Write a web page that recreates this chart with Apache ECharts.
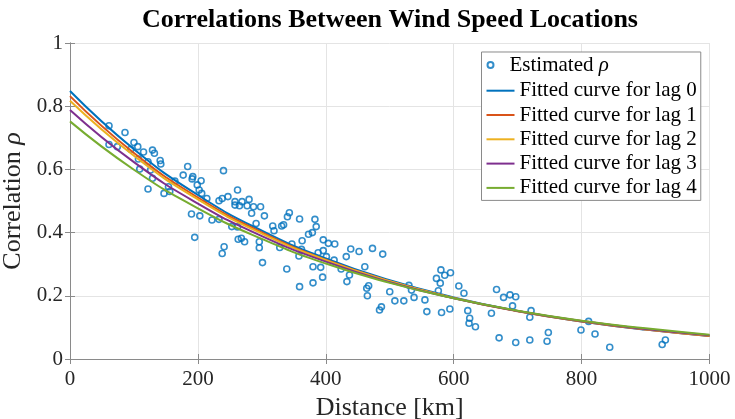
<!DOCTYPE html>
<html>
<head>
<meta charset="utf-8">
<script src="https://cdn.jsdelivr.net/npm/echarts@6/dist/echarts.min.js"></script>
<style>html,body{margin:0;padding:0;background:#fff}#c{width:735px;height:419px}</style>
</head>
<body>
<div id="c"></div>
<script>
// Estimated correlations: distance [km] and rho
const distances = [61,61,74,86,100,106,95,115,129,132,122,141,142,107,109,126,122,129,147,154,156,164,177,184,192,191,205,199,202,206,214,240,233,238,247,262,258,258,269,280,287,277,265,190,203,222,233,195,262,268,291,298,284,304,253,241,238,263,273,296,296,301,317,319,331,334,340,343,359,383,385,373,379,363,347,328,362,358,339,396,404,414,388,396,401,413,380,392,395,380,359,432,439,452,473,461,433,464,467,465,489,437,424,484,487,500,508,522,530,534,538,555,558,573,580,586,595,579,576,581,594,608,616,622,625,624,634,659,667,678,688,697,692,671,697,721,719,719,748,746,799,811,821,844,926,931];
const rhoEst = [0.738,0.679,0.672,0.717,0.685,0.672,0.664,0.655,0.661,0.651,0.624,0.628,0.617,0.633,0.601,0.598,0.538,0.572,0.524,0.545,0.530,0.563,0.582,0.609,0.577,0.570,0.564,0.551,0.535,0.524,0.508,0.596,0.501,0.508,0.514,0.535,0.498,0.487,0.498,0.505,0.482,0.485,0.485,0.459,0.453,0.440,0.442,0.385,0.418,0.382,0.429,0.482,0.461,0.453,0.419,0.355,0.334,0.379,0.371,0.371,0.352,0.305,0.421,0.406,0.421,0.425,0.450,0.463,0.443,0.442,0.419,0.395,0.400,0.374,0.364,0.353,0.347,0.326,0.285,0.377,0.366,0.364,0.336,0.343,0.324,0.313,0.292,0.290,0.259,0.241,0.229,0.324,0.348,0.340,0.350,0.292,0.245,0.224,0.232,0.200,0.332,0.266,0.285,0.155,0.165,0.213,0.184,0.184,0.233,0.218,0.195,0.187,0.150,0.255,0.282,0.265,0.273,0.240,0.216,0.147,0.158,0.231,0.208,0.153,0.129,0.113,0.102,0.145,0.220,0.195,0.203,0.197,0.168,0.067,0.052,0.153,0.132,0.060,0.084,0.056,0.092,0.119,0.079,0.037,0.046,0.060];

// Fitted curves at these distances
const curveDist = [0,100,200,300,400,500,600,700,800,900,1000];
const lag0 = [0.848,0.664,0.519,0.406,0.318,0.249,0.195,0.152,0.119,0.093,0.073];
const lag1 = [0.832,0.652,0.511,0.401,0.314,0.246,0.193,0.151,0.119,0.093,0.073];
const lag2 = [0.817,0.643,0.505,0.397,0.313,0.246,0.193,0.152,0.120,0.094,0.074];
const lag3 = [0.788,0.623,0.492,0.389,0.308,0.243,0.192,0.152,0.120,0.095,0.075];
const lag4 = [0.752,0.599,0.477,0.380,0.302,0.241,0.192,0.153,0.121,0.097,0.077];

const xTicks = [0,200,400,600,800,1000];
const yTicks = [0,0.2,0.4,0.6,0.8,1];

const lagNames = ['Fitted curve for lag 0','Fitted curve for lag 1','Fitted curve for lag 2','Fitted curve for lag 3','Fitted curve for lag 4'];
const lagData = [lag0,lag1,lag2,lag3,lag4];
const lagColors = ['#0072BD','#D95319','#EDB120','#7E2F8E','#77AC30'];
const scatterName = 'Estimated ρ';

const FONT = '"Liberation Serif","Times New Roman",serif';
const axisGray = '#8a8a8a';

const chart = echarts.init(document.getElementById('c'), null, {renderer:'canvas'});

const lineSeries = lagNames.map((n,i)=>({
  name:n, type:'line', smooth:true, symbol:'none', showSymbol:false,
  data: curveDist.map((d,j)=>[d,lagData[i][j]]),
  lineStyle:{color:lagColors[i], width:2},
  itemStyle:{color:lagColors[i]},
  z:3, animation:false
}));

const option = {
  animation:false,
  backgroundColor:'#fff',
  graphic:[{
    type:'text', x:390, y:7, z:10,
    style:{text:'Correlations Between Wind Speed Locations', textAlign:'center', textVerticalAlign:'top',
      font:'bold 26px "Liberation Serif", serif', fill:'#000'}
  }],
  grid:{left:70, right:25.5, top:43, bottom:60, containLabel:false, outerBoundsMode:'none'},
  xAxis:[{
    type:'value', min:0, max:1000, interval:200, position:'bottom',
    name:'Distance [km]', nameLocation:'middle', nameGap:34,
    nameTextStyle:{fontFamily:FONT, fontSize:26, color:'#262626'},
    axisLine:{show:true, lineStyle:{color:axisGray, width:1}},
    axisTick:{show:true, inside:true, length:5, lineStyle:{color:axisGray}},
    axisLabel:{fontFamily:FONT, fontSize:21, color:'#262626', margin:10,
      formatter:v=>xTicks.includes(v)?String(v):''},
    splitLine:{show:true, lineStyle:{color:'#e4e4e4', width:1}}
  },{
    type:'value', min:0, max:1000, interval:200, position:'top',
    axisLine:{show:true, lineStyle:{color:axisGray, width:1}},
    axisTick:{show:true, inside:true, length:5, lineStyle:{color:axisGray}},
    axisLabel:{show:false}, splitLine:{show:false}
  }],
  yAxis:[{
    type:'value', min:0, max:1, interval:0.2, position:'left',
    name:'{n|Correlation }{i|ρ}', nameLocation:'middle', nameGap:36, nameRotate:90,
    nameTextStyle:{fontFamily:FONT, fontSize:26, color:'#262626',
      rich:{n:{fontFamily:FONT, fontSize:26, color:'#262626'},
            i:{fontFamily:FONT, fontSize:26, fontStyle:'italic', color:'#262626'}}},
    axisLine:{show:true, lineStyle:{color:axisGray, width:1}},
    axisTick:{show:true, inside:true, length:5, lineStyle:{color:axisGray}},
    axisLabel:{fontFamily:FONT, fontSize:21, color:'#262626', margin:7,
      formatter:v=>{const t=yTicks.find(k=>Math.abs(k-v)<1e-9); return t===undefined?'':String(t);}},
    splitLine:{show:true, lineStyle:{color:'#e4e4e4', width:1}}
  },{
    type:'value', min:0, max:1, interval:0.2, position:'right',
    axisLine:{show:true, lineStyle:{color:axisGray, width:1}},
    axisTick:{show:true, inside:true, length:5, lineStyle:{color:axisGray}},
    axisLabel:{show:false}, splitLine:{show:false}
  }],
  legend:[{
    data:lagNames.map(n=>({name:n, icon:'rect'})), orient:'vertical', left:481.5, top:52,
    padding:[28.2,4,2,5], itemWidth:28, itemHeight:2, itemGap:3.3,
    backgroundColor:'#fff', borderColor:'#8a8a8a', borderWidth:1,
    textStyle:{fontFamily:FONT, fontSize:21, color:'#000'},
    z:5
  },{
    data:[scatterName], orient:'vertical', left:486.5, top:54.5, padding:0,
    itemWidth:28, itemHeight:6,
    textStyle:{fontFamily:FONT, fontSize:21, color:'#000',
      rich:{i:{fontFamily:FONT, fontSize:21, fontStyle:'italic', color:'#000'},
            n:{fontFamily:FONT, fontSize:21, color:'#000'}}},
    formatter:()=> '{n|Estimated }{i|ρ}',
    z:6
  }],
  series:[{
    name:scatterName, type:'scatter', symbol:'circle', symbolSize:6,
    data: distances.map((d,i)=>[d,rhoEst[i]]),
    itemStyle:{color:'rgba(0,0,0,0)', borderColor:'#0072BD', borderWidth:1.6},
    z:2
  }].concat(lineSeries)
};
chart.setOption(option);
</script>
</body>
</html>
